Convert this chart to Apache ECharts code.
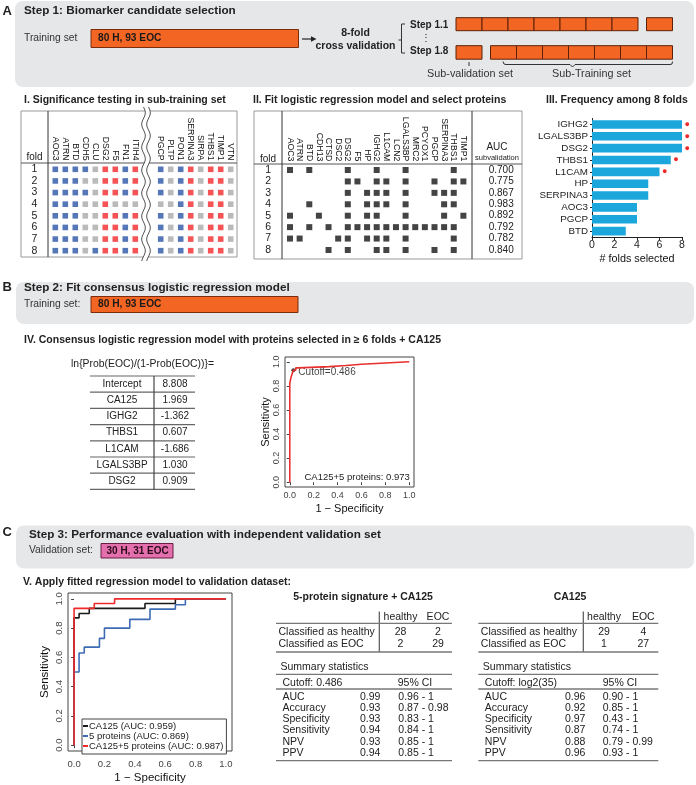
<!DOCTYPE html>
<html>
<head>
<meta charset="utf-8">
<script src="https://cdn.jsdelivr.net/npm/echarts@6/dist/echarts.min.js"></script>
<style>
  html, body { margin: 0; padding: 0; background: #fff; }
  #chart { width: 696px; height: 785px; }
</style>
</head>
<body>
<div id="chart"></div>
<script>
// ---------- data ----------
const folds = ['1', '2', '3', '4', '5', '6', '7', '8'];

// I. significance calls per fold (b = lower in EOC, r = higher in EOC, g = n.s.)
const sigGenesA = ['AOC3', 'ATRN', 'BTD', 'CDH5', 'CLU', 'DSG2', 'F5', 'FN1', 'ITIH4'];
const sigGenesB = ['PGCP', 'PLTP', 'PON1', 'SERPINA3', 'SIRPA', 'THBS1', 'TIMP1', 'VTN'];
const sigCallsA = ['bbbbgrrbr', 'bbbggrrbr', 'bbbbgrrbr', 'bbbggrggg', 'bbbggrrbr', 'bbbggrrbr', 'bbbggrrbr', 'bbbgbrrbr'];
const sigCallsB = ['bgbrgrrg', 'bgbrgrrg', 'bgbrgrrg', 'ggbrgrrg', 'bgbrgrrg', 'bgbrgrrg', 'bgbrgrrg', 'bgbrgrrg'];

// II. proteins kept by the logistic model in each fold
const lrGenes = ['AOC3', 'ATRN', 'BTD', 'CDH13', 'CTSD', 'DSC2', 'DSG2', 'F5', 'HP', 'IGHG2', 'L1CAM', 'LCN2',
  'LGALS3BP', 'MRC2', 'PCYOX1', 'PGCP', 'SERPINA3', 'THBS1', 'TIMP1'];
const lrPicked = [
  ['AOC3', 'BTD', 'DSG2', 'IGHG2', 'LGALS3BP', 'THBS1'],
  ['DSG2', 'F5', 'IGHG2', 'L1CAM', 'LGALS3BP', 'PGCP', 'THBS1', 'TIMP1'],
  ['DSG2', 'HP', 'IGHG2', 'L1CAM', 'LGALS3BP', 'PGCP', 'SERPINA3', 'THBS1'],
  ['BTD', 'DSG2', 'HP', 'IGHG2', 'L1CAM', 'LGALS3BP', 'SERPINA3', 'THBS1'],
  ['AOC3', 'CDH13', 'DSG2', 'HP', 'IGHG2', 'LGALS3BP', 'SERPINA3', 'TIMP1'],
  ['AOC3', 'BTD', 'CTSD', 'DSG2', 'F5', 'HP', 'IGHG2', 'L1CAM', 'LCN2', 'LGALS3BP', 'MRC2', 'PCYOX1', 'PGCP', 'SERPINA3', 'THBS1'],
  ['AOC3', 'ATRN', 'DSC2', 'DSG2', 'HP', 'IGHG2', 'L1CAM', 'LGALS3BP', 'THBS1'],
  ['CTSD', 'DSG2', 'IGHG2', 'L1CAM', 'LGALS3BP', 'PGCP', 'THBS1']
];
const foldAuc = [0.700, 0.775, 0.867, 0.983, 0.892, 0.792, 0.782, 0.840];

// III. selection frequency
const freqGenes = ['IGHG2', 'LGALS3BP', 'DSG2', 'THBS1', 'L1CAM', 'HP', 'SERPINA3', 'AOC3', 'PGCP', 'BTD'];
const freqCounts = [8, 8, 8, 7, 6, 5, 5, 4, 4, 3];
const minFolds = 6;

// IV. consensus model
const coefNames = ['Intercept', 'CA125', 'IGHG2', 'THBS1', 'L1CAM', 'LGALS3BP', 'DSG2'];
const coefValues = [8.808, 1.969, -1.362, 0.607, -1.686, 1.030, 0.909];
const rocTrain = [[0, 0], [0, 0.82], [0.01, 0.82], [0.01, 0.87], [0.02, 0.87], [0.02, 0.9], [0.03, 0.9], [0.03, 0.93],
  [0.05, 0.93], [0.05, 0.95], [0.07, 0.95], [0.07, 0.96], [0.33, 0.96], [0.33, 0.97], [0.47, 0.97], [0.47, 0.98],
  [0.6, 0.98], [0.6, 0.99], [0.8, 0.99], [0.8, 1], [1, 1]];
const cutoffTrain = [0.03, 0.93];
const trainAuc = 0.973;

// V. validation ROC curves
const rocCa125 = [[0, 0], [0, 0.87], [0.033, 0.87], [0.033, 0.9], [0.1, 0.9], [0.1, 0.935], [0.467, 0.935],
  [0.467, 0.968], [0.667, 0.968], [0.667, 1], [1, 1]];
const rocProteins = [[0, 0], [0, 0.5], [0.033, 0.5], [0.033, 0.63], [0.067, 0.63], [0.067, 0.67], [0.167, 0.67],
  [0.167, 0.73], [0.2, 0.73], [0.2, 0.8], [0.367, 0.8], [0.367, 0.86], [0.5, 0.86], [0.5, 0.93], [0.667, 0.93],
  [0.667, 0.96], [0.733, 0.96], [0.733, 1], [1, 1]];
const rocCombo = [[0, 0], [0, 0.935], [0.133, 0.935], [0.133, 0.968], [0.267, 0.968], [0.267, 1], [1, 1]];
const valAuc = { ca125: 0.959, proteins: 0.869, combo: 0.987 };

// V. tables
const confCols = ['healthy', 'EOC'];
const confRows = ['Classified as healthy', 'Classified as EOC'];
const confCombo = [[28, 2], [2, 29]];
const confCa125 = [[29, 4], [1, 27]];
const statNames = ['AUC', 'Accuracy', 'Specificity', 'Sensitivity', 'NPV', 'PPV'];
const statCombo = ['0.99', '0.93', '0.93', '0.94', '0.93', '0.94'];
const ciCombo = ['0.96 - 1', '0.87 - 0.98', '0.83 - 1', '0.84 - 1', '0.85 - 1', '0.85 - 1'];
const statCa125 = ['0.96', '0.92', '0.97', '0.87', '0.88', '0.96'];
const ciCa125 = ['0.90 - 1', '0.85 - 1', '0.43 - 1', '0.74 - 1', '0.79 - 0.99', '0.93 - 1'];

// ---------- drawing ----------
const FF = "'Liberation Sans', Arial, Helvetica, sans-serif";
const callColor = { b: '#2b55a6', r: '#f4282c', g: '#a9a9a9' };
const G = [];

function text(x, y, s, size, opts) {
  G.push({
    type: 'text', x: x, y: y,
    style: Object.assign({ text: s, fontSize: size, fontFamily: FF, fill: '#222', align: 'left', verticalAlign: 'middle' }, opts || {})
  });
}
function line(x1, y1, x2, y2, stroke, w) {
  G.push({ type: 'line', shape: { x1: x1, y1: y1, x2: x2, y2: y2 }, style: { stroke: stroke || '#333', lineWidth: w || 1 } });
}
function rect(x, y, w, h, fill, stroke, r) {
  G.push({ type: 'rect', shape: { x: x, y: y, width: w, height: h, r: r || 0 }, style: { fill: fill, stroke: stroke || null, lineWidth: 1 } });
}
const B = { fontWeight: 'bold' };
const STEP = 11.7, SEC = 10.5;

// panel backgrounds
rect(15, 1, 679, 86, '#e6e7e8', null, 8);
rect(16, 282, 678, 42, '#e6e7e8', null, 8);
rect(16, 525.5, 678, 43, '#e6e7e8', null, 8);

// panel A
text(2.5, 11, 'A', 13, B);
text(24, 10.5, 'Step 1: Biomarker candidate selection', STEP, B);
text(24, 38.5, 'Training set', 10.3, { fill: '#333' });
rect(91, 29.5, 207.5, 18, '#f26522', '#7b2d0c');
text(98, 38.5, '80 H, 93 EOC', 10.2, { fontWeight: 'bold', fill: '#1a1a1a' });
line(302, 39, 312, 39, '#222', 1.2);
G.push({ type: 'polygon', shape: { points: [[311, 36.3], [316.5, 39], [311, 41.7]] }, style: { fill: '#222' } });
text(355.5, 33.5, '8-fold', 10.5, Object.assign({ align: 'center' }, B));
text(355.5, 46, 'cross validation', 10.5, Object.assign({ align: 'center' }, B));
G.push({ type: 'polyline', shape: { points: [[405, 24], [401.5, 24], [401.5, 53], [405, 53]] }, style: { stroke: '#333', lineWidth: 1 } });
line(401.5, 40, 398.5, 40, '#333', 1);
text(410, 25, 'Step 1.1', 10, B);
text(426, 38, '\u22EE', 10, { align: 'center' });
text(410, 51.5, 'Step 1.8', 10, B);
const boxW = 26;
for (let i = 0; i < folds.length; i++) {
  // fold 1: validation chunk last; fold 8: validation chunk first
  const x1 = i < folds.length - 1 ? 456 + i * boxW : 646.5;
  rect(x1, 17.7, boxW, 13, '#f26522', '#5a2208');
  const x8 = i === 0 ? 456 : 490.5 + (i - 1) * boxW;
  rect(x8, 45.7, boxW, 13.5, '#f26522', '#5a2208');
}
line(469, 62, 469, 66, '#333', 1);
G.push({
  type: 'polyline',
  shape: { points: [[503, 61.5], [504, 64], [506, 64.5], [570, 64.5], [572.5, 67], [575, 64.5], [670, 64.5], [672, 64], [672.5, 61.5]] },
  style: { stroke: '#333', lineWidth: 1, fill: null }
});
text(470, 74.5, 'Sub-validation set', 10.8, { align: 'center', fill: '#333' });
text(591.5, 74.5, 'Sub-Training set', 10.8, { align: 'center', fill: '#333' });

// section titles
text(24, 100, 'I. Significance testing in sub-training set', SEC, B);
text(253, 100, 'II. Fit logistic regression model and select proteins', SEC, B);
text(546, 100, 'III. Frequency among 8 folds', SEC, B);

// table I frame
rect(21, 111, 216, 146, null, '#999');
line(21, 163, 237, 163, '#555', 1);
line(48, 111, 48, 257, '#333', 1);
text(34.5, 157, 'fold', 10, { align: 'center' });
function wave(x0) {
  const pts = [];
  for (let y = 107; y <= 261; y += 1) pts.push([x0 + 1.8 * Math.sin((y - 107) / 23 * 2 * Math.PI), y]);
  return pts;
}
G.push({ type: 'polygon', shape: { points: wave(143.5).concat(wave(148.5).reverse()) }, style: { fill: '#fff' } });
G.push({ type: 'polyline', shape: { points: wave(143.5) }, style: { stroke: '#555', lineWidth: 1, fill: null } });
G.push({ type: 'polyline', shape: { points: wave(148.5) }, style: { stroke: '#555', lineWidth: 1, fill: null } });

// table II frame
rect(254, 111, 268, 148, null, '#999');
line(254, 164, 522, 164, '#555', 1);
line(282, 111, 282, 259, '#333', 1);
line(472, 111, 472, 259, '#333', 1);
text(268, 159, 'fold', 10, { align: 'center' });
text(497, 147, 'AUC', 10, { align: 'center' });
text(497, 158, 'subvalidation', 7.5, { align: 'center' });

// panel B
text(2.5, 287, 'B', 13, B);
text(24, 287.5, 'Step 2: Fit consensus logistic regression model', STEP, B);
text(24, 304.5, 'Training set:', 10.3, { fill: '#333' });
rect(91, 296.5, 207, 16, '#f26522', '#7b2d0c');
text(98, 304.5, '80 H, 93 EOC', 10.2, { fontWeight: 'bold', fill: '#1a1a1a' });

// IV
text(24, 340, 'IV. Consensus logistic regression model with proteins selected in \u2265 ' + minFolds + ' folds + CA125', SEC, B);
text(142.5, 364, 'ln{Prob(EOC)/(1-Prob(EOC))}=', 10.4, { align: 'center' });
const coefTop = 376, coefRow = 16.2;
for (let i = 0; i <= coefNames.length; i++) line(90, coefTop + i * coefRow, 195, coefTop + i * coefRow, '#666', 1.2);
line(154, coefTop, 154, coefTop + coefNames.length * coefRow, '#444', 1.2);
coefNames.forEach(function (n, i) {
  const y = coefTop + coefRow / 2 + i * coefRow;
  text(122, y, n, 10, { align: 'center' });
  text(175, y, coefValues[i].toFixed(3), 10, { align: 'center' });
});
text(304.5, 477, 'CA125+5 proteins: ' + trainAuc.toFixed(3), 9.5);

// panel C
text(2.5, 532.5, 'C', 13, B);
text(29, 534.5, 'Step 3: Performance evaluation with independent validation set', STEP, B);
text(29, 550.5, 'Validation set:', 10.3, { fill: '#333' });
rect(101, 543.5, 72, 14.5, '#e36fac', '#6b1d45');
text(106.5, 551, '30 H, 31 EOC', 10, { fontWeight: 'bold', fill: '#2a0a1a' });

// V
text(23, 582, 'V. Apply fitted regression model to validation dataset:', SEC, B);
function statTable(o) {
  text(o.titleX, 597.3, o.title, 10.5, Object.assign({ align: 'center' }, B));
  line(o.vline, 611.5, o.vline, 652, '#555', 1.2);
  line(o.x0, 623.3, o.x1, 623.3, '#777', 1.3);
  line(o.x0, 652, o.x1, 652, '#777', 1.3);
  confCols.forEach(function (c, j) { text(o.colX[j], 617.3, c, 10.5, { align: 'center' }); });
  confRows.forEach(function (r, i) {
    const y = 632 + i * 12.2;
    text(o.x0 + 2.5, y, r, 10.5);
    o.conf[i].forEach(function (v, j) { text(o.colX[j], y, String(v), 10.5, { align: 'center' }); });
  });
  text(o.x0 + 4.5, 667.3, 'Summary statistics', 10.5);
  line(o.x0, 674.3, o.x1, 674.3, '#777', 1.3);
  text(o.x0 + 6.5, 682.7, o.cutoff, 10.5);
  text(o.ciHead, 682.7, '95% CI', 10.5, { align: 'center' });
  line(o.x0, 689, o.x1, 689, '#777', 1.3);
  statNames.forEach(function (n, i) {
    const y = 697.3 + i * 11.1;
    text(o.x0 + 6.5, y, n, 10.5);
    text(o.valX, y, o.stats[i], 10.5);
    text(o.ciX, y, o.cis[i], 10.5);
  });
  line(o.x0, 760.7, o.x1, 760.7, '#777', 1.3);
}
statTable({ title: '5-protein signature + CA125', titleX: 363, x0: 276, x1: 452, vline: 379.3, colX: [400.5, 438],
  conf: confCombo, cutoff: 'Cutoff: 0.486', ciHead: 415, valX: 360, ciX: 398.3, stats: statCombo, cis: ciCombo });
statTable({ title: 'CA125', titleX: 570, x0: 478.3, x1: 658.3, vline: 583.3, colX: [604, 643.3],
  conf: confCa125, cutoff: 'Cutoff: log2(35)', ciHead: 620, valX: 565, ciX: 602.7, stats: statCa125, cis: ciCa125 });

// ---------- chart option ----------
function matX(gi, names) {
  return {
    gridIndex: gi, type: 'category', data: names, position: 'top',
    axisLine: { show: false }, axisTick: { show: false }, splitLine: { show: false },
    axisLabel: { rotate: 90, interval: 0, fontSize: 8.7, color: '#111', margin: 3, fontFamily: FF }
  };
}
function matY(gi, show, margin) {
  return {
    gridIndex: gi, type: 'category', data: folds, inverse: true,
    axisLine: { show: false }, axisTick: { show: false }, splitLine: { show: false },
    axisLabel: { show: show, interval: 0, fontSize: 10.5, color: '#222', margin: margin, align: 'center', fontFamily: FF }
  };
}
function callData(calls) {
  const d = [];
  calls.forEach(function (row, r) {
    row.split('').forEach(function (c, k) { d.push({ value: [k, r], itemStyle: { color: callColor[c] } }); });
  });
  return d;
}
const pickedData = [];
lrPicked.forEach(function (genes, r) {
  genes.forEach(function (g) { pickedData.push([lrGenes.indexOf(g), r]); });
});

const rocTicks = [0, 0.2, 0.4, 0.6, 0.8, 1];
function rocX(gi, fs, margin, gap) {
  return {
    gridIndex: gi, type: 'value', min: -0.04, max: 1.04,
    axisLine: { show: false }, splitLine: { show: false },
    axisTick: { show: true, length: 3, customValues: rocTicks, lineStyle: { color: '#444' } },
    axisLabel: { customValues: rocTicks, formatter: function (v) { return v.toFixed(1); }, fontSize: fs, color: '#444', margin: margin, fontFamily: FF },
    name: '1 \u2212 Specificity', nameLocation: 'middle', nameGap: gap, nameTextStyle: { fontSize: fs + 2, color: '#111', fontFamily: FF }
  };
}
function rocY(gi, fs, gap) {
  return {
    gridIndex: gi, type: 'value', min: -0.04, max: 1.04,
    axisLine: { show: false }, splitLine: { show: false },
    axisTick: { show: true, length: 3, customValues: rocTicks, lineStyle: { color: '#444' } },
    axisLabel: { customValues: rocTicks, rotate: 90, formatter: function (v) { return v.toFixed(1); }, fontSize: fs, color: '#444', margin: 4, fontFamily: FF },
    name: 'Sensitivity', nameLocation: 'middle', nameGap: gap, nameTextStyle: { fontSize: fs + 2, color: '#111', fontFamily: FF }
  };
}
function rocLine(name, data, color, xi) {
  return {
    name: name, type: 'line', xAxisIndex: xi, yAxisIndex: xi, data: data, showSymbol: false,
    lineStyle: { color: color, width: 1.6 }, itemStyle: { color: color }, silent: true
  };
}

const legendNames = ['CA125 (AUC: ' + valAuc.ca125.toFixed(3) + ')', '5 proteins (AUC: ' + valAuc.proteins.toFixed(3) + ')',
  'CA125+5 proteins (AUC: ' + valAuc.combo.toFixed(3) + ')'];

const option = {
  animation: false,
  backgroundColor: '#fff',
  textStyle: { fontFamily: FF },
  grid: [
    { left: 50.3, top: 163.5, width: 90, height: 93 },
    { left: 155.7, top: 163.5, width: 80, height: 93 },
    { left: 285.2, top: 164.3, width: 183, height: 91.4 },
    { left: 592, top: 118.5, width: 90, height: 118.5 },
    { left: 285, top: 357, width: 129, height: 130, show: true, borderColor: '#444', borderWidth: 1 },
    { left: 68, top: 593, width: 164, height: 164, show: true, borderColor: '#444', borderWidth: 1 }
  ],
  xAxis: [
    matX(0, sigGenesA), matX(1, sigGenesB), matX(2, lrGenes),
    {
      gridIndex: 3, type: 'value', min: 0, max: 8, interval: 2,
      axisLine: { show: true, lineStyle: { color: '#222' } }, axisTick: { show: true, length: 3 }, splitLine: { show: false },
      axisLabel: { fontSize: 10.5, color: '#222', margin: 3 },
      name: '# folds selected', nameLocation: 'middle', nameGap: 17, nameTextStyle: { fontSize: 10.8, color: '#111' }
    },
    rocX(4, 9, 4, 16), rocX(5, 9.5, 8, 21)
  ],
  yAxis: [
    matY(0, true, 16), matY(1, false, 0), matY(2, true, 17),
    {
      gridIndex: 3, type: 'category', data: freqGenes, inverse: true,
      axisLine: { show: true, lineStyle: { color: '#222' } }, axisTick: { show: true, length: 2, alignWithLabel: true },
      axisLabel: { interval: 0, fontSize: 9.8, color: '#222', margin: 4 }
    },
    rocY(4, 9, 14), rocY(5, 9.5, 17),
    {
      gridIndex: 2, type: 'category', data: foldAuc.map(function (v) { return v.toFixed(3); }), inverse: true, position: 'right',
      axisLine: { show: false }, axisTick: { show: false }, splitLine: { show: false },
      axisLabel: { interval: 0, fontSize: 10, color: '#222', margin: 33, align: 'center' }
    }
  ],
  legend: {
    data: legendNames, orient: 'vertical', left: 82, top: 719, itemGap: 0, itemWidth: 5, itemHeight: 2, icon: 'rect',
    padding: [2, 3, 3, 1], borderColor: '#444', borderWidth: 1, backgroundColor: '#fff', borderRadius: 0,
    textStyle: { fontSize: 9.5, color: '#222', padding: [0, 0, 0, -4], lineHeight: 10 }, selectedMode: false
  },
  series: [
    { type: 'scatter', xAxisIndex: 0, yAxisIndex: 0, symbol: 'rect', symbolSize: 5.6, data: callData(sigCallsA), silent: true },
    { type: 'scatter', xAxisIndex: 1, yAxisIndex: 1, symbol: 'rect', symbolSize: 5.6, data: callData(sigCallsB), silent: true },
    { type: 'scatter', xAxisIndex: 2, yAxisIndex: 2, symbol: 'rect', symbolSize: 6, data: pickedData, itemStyle: { color: '#151515' }, silent: true },
    {
      type: 'bar', xAxisIndex: 3, yAxisIndex: 3, barWidth: 8.6, silent: true,
      data: freqCounts.map(function (v) {
        return {
          value: v,
          label: { show: v >= minFolds, position: 'right', distance: 2.5, formatter: '\u25CF', color: '#ee2a2a', fontSize: 9 }
        };
      }),
      itemStyle: { color: '#1ca7dc' }
    },
    rocLine('train', rocTrain, '#e8302f', 4),
    {
      type: 'scatter', xAxisIndex: 4, yAxisIndex: 4, data: [cutoffTrain], symbolSize: 4, itemStyle: { color: '#111' }, silent: true,
      label: { show: true, position: 'right', distance: 3, formatter: 'Cutoff=0.486', fontSize: 10, color: '#111', offset: [0, 2] }
    },
    rocLine(legendNames[0], rocCa125, '#1a1a1a', 5),
    rocLine(legendNames[1], rocProteins, '#3d6cb5', 5),
    rocLine(legendNames[2], rocCombo, '#ee2a2a', 5)
  ],
  graphic: G
};

const chart = echarts.init(document.getElementById('chart'));
chart.setOption(option);
</script>
</body>
</html>
